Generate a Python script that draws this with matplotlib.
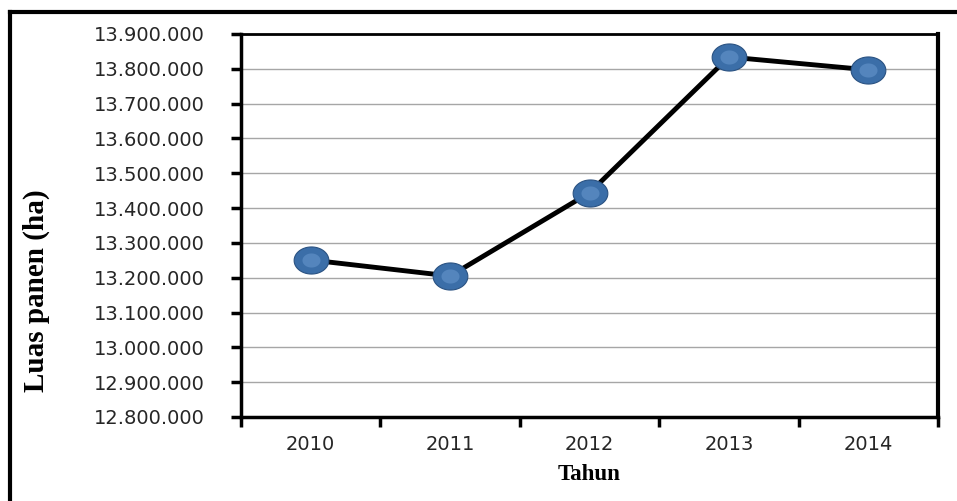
import matplotlib
matplotlib.use("Agg")
import matplotlib.pyplot as plt
import numpy as np
from matplotlib.path import Path
from matplotlib.ticker import FuncFormatter, MultipleLocator
from matplotlib.lines import Line2D

years = ["2010", "2011", "2012", "2013", "2014"]
luas_panen = [13251000, 13205000, 13444000, 13834000, 13797000]
y_min, y_max, y_step = 12800000, 13900000, 100000

fig = plt.figure(figsize=(9.57, 5.01), dpi=100)
ax = fig.add_axes([241/957, 1-417/501, (938-241)/957, (417-34)/501])

x = np.arange(len(years))
ax.plot(x, luas_panen, color="black", lw=3.5, zorder=3, solid_capstyle="round")

# ellipse marker (wider than tall)
t = np.linspace(0, 2*np.pi, 60)
ell = Path(np.column_stack([np.cos(t)*1.0, np.sin(t)*0.78]))
ax.plot(x, luas_panen, ls="none", marker=ell, ms=25, mfc="#3b6ea8", mec="#2a5282", mew=0.8, zorder=4)
ax.plot(x, luas_panen, ls="none", marker=ell, ms=13, mfc="#6d9dd3", mec="none", alpha=0.5, zorder=5)

ax.set_xlim(-0.5, len(years)-0.5)
ax.set_ylim(y_min, y_max)
ax.yaxis.set_major_locator(MultipleLocator(y_step))
ax.yaxis.set_major_formatter(FuncFormatter(lambda v, p: f"{int(round(v)):,}".replace(",", ".")))
ax.set_xticks(np.arange(-0.5, len(years), 1.0), minor=False)
ax.set_xticklabels([])
ax.set_xticks(x, minor=True)
ax.set_xticklabels(years, minor=True)
ax.tick_params(axis="x", which="minor", length=0, pad=13, labelsize=14, labelcolor="#262626")
ax.tick_params(axis="x", which="major", length=7, width=2.5, direction="out")
ax.tick_params(axis="y", length=7, width=2.5, direction="out", labelsize=14, labelcolor="#262626", pad=19)

ax.grid(axis="y", color="#a6a6a6", lw=1.0)
ax.set_axisbelow(True)
for s, w in (("left", 2.5), ("bottom", 2.5), ("top", 2.0), ("right", 3.0)):
    ax.spines[s].set_linewidth(w)
    ax.spines[s].set_color("black")

ax.set_xlabel("Tahun", fontfamily="Liberation Serif", fontweight="bold", fontsize=16.5)
ax.xaxis.set_label_coords(0.5, -0.149)
ax.xaxis.label.set_va("center")
ax.set_ylabel("Luas panen (ha)", fontfamily="Liberation Serif", fontweight="bold", fontsize=21)
ax.yaxis.set_label_coords(-0.294, 0.33)
ax.yaxis.label.set_va("center")

# outer frame (left and top)
fig.add_artist(Line2D([10/957, 10/957], [0, 1-12/501], color="black", lw=3, transform=fig.transFigure))
fig.add_artist(Line2D([10/957, 1], [1-12/501, 1-12/501], color="black", lw=3, transform=fig.transFigure))

fig.savefig("out.png", dpi=100)
